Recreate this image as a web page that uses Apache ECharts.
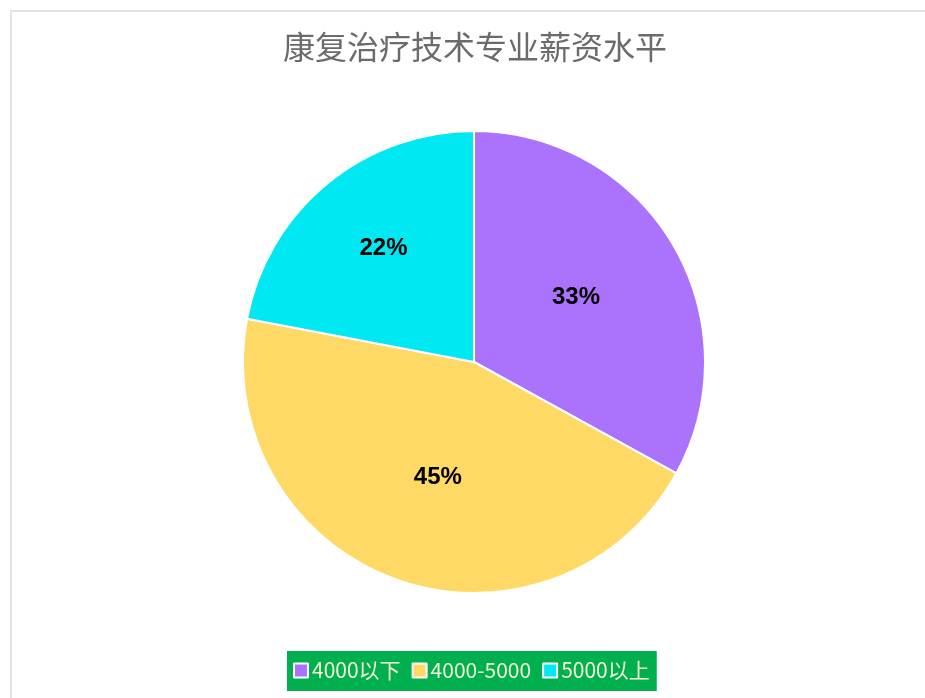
<!DOCTYPE html>
<html>
<head>
<meta charset="utf-8">
<script src="https://cdn.jsdelivr.net/npm/echarts@6/dist/echarts.min.js"></script>
<style>
html,body{margin:0;padding:0;background:#fff;overflow:hidden;}
#chart{position:absolute;left:0;top:0;width:925px;height:698px;}
#frame{position:absolute;left:10px;top:10px;width:1000px;height:800px;border:2px solid #e3e3e3;box-sizing:border-box;pointer-events:none;}
</style>
</head>
<body>
<div id="frame"></div>
<div id="chart"></div>
<script>
const titleText = '康复治疗技术专业薪资水平';
const categories = ['4000以下', '4000-5000', '5000以上'];
const values = [33, 45, 22];
const colors = ['#AB72FB', '#FFD966', '#00E8F2'];

const chart = echarts.init(document.getElementById('chart'), null, {renderer: 'canvas'});
const data = categories.map((c, i) => {
  const d = {name: c, value: values[i], itemStyle: {color: colors[i]}};
  if (i === 2) d.label = {offset: [-15, -22]};
  if (i === 0) d.label = {offset: [0, -4]};
  if (i === 1) d.label = {offset: [4, 4]};
  return d;
});
chart.setOption({
  animation: false,
  backgroundColor: 'transparent',
  title: {
    text: titleText,
    left: 278,
    top: 26,
    textStyle: {
      fontFamily: 'Noto Sans CJK SC',
      fontSize: 32,
      fontWeight: 'normal',
      color: '#6b6b6b'
    }
  },
  legend: {
    data: categories,
    left: 287,
    top: 651,
    orient: 'horizontal',
    backgroundColor: '#00B04F',
    padding: [9, 7, 10, 6],
    itemGap: 11,
    itemWidth: 14,
    itemHeight: 14,
    icon: 'rect',
    itemStyle: {borderColor: '#ffffff', borderWidth: 2},
    textStyle: {
      fontFamily: 'Noto Sans CJK SC',
      fontSize: 21,
      color: '#f3f3d6',
      padding: [0, 0, 0, -1]
    }
  },
  series: [{
    type: 'pie',
    center: [474, 362],
    radius: 231,
    startAngle: 90,
    clockwise: true,
    data: data,
    itemStyle: {borderColor: '#ffffff', borderWidth: 2},
    label: {
      show: true,
      position: 'inside',
      formatter: '{c}%',
      fontFamily: 'Liberation Sans',
      fontWeight: 'bold',
      fontSize: 24,
      color: '#000'
    },
    labelLine: {show: false},
    emphasis: {disabled: true}
  }]
});
</script>
</body>
</html>
